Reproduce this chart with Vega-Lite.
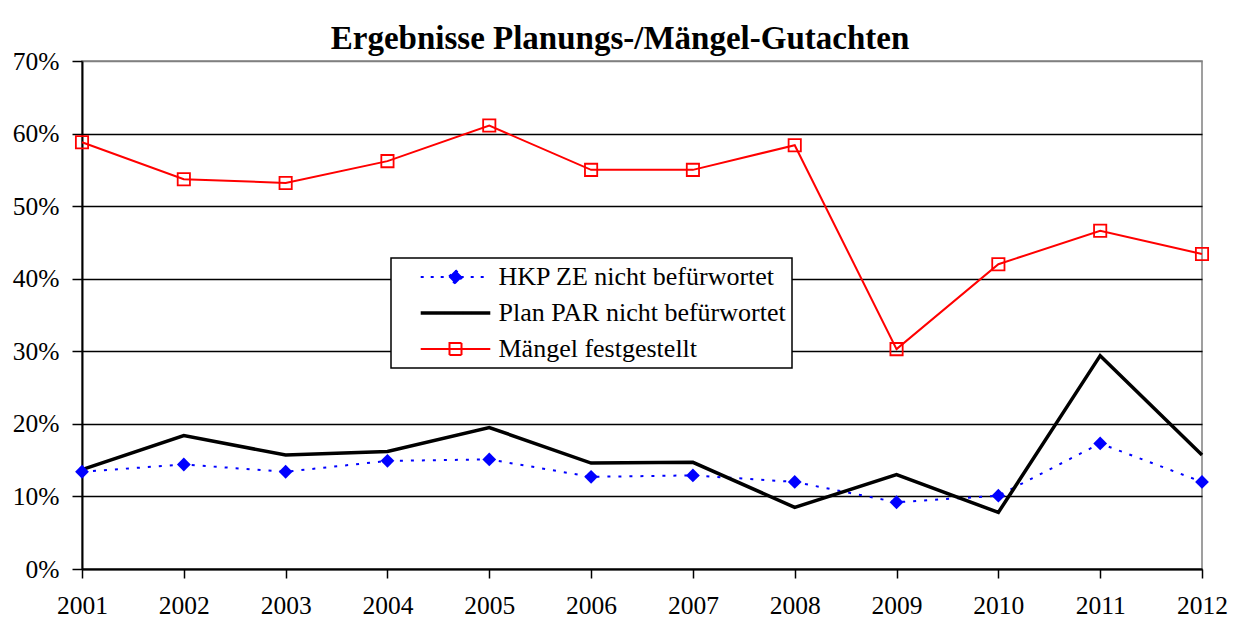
{
  "$schema": "https://vega.github.io/schema/vega-lite/v6.json",
  "width": 1120,
  "height": 508,
  "autosize": {"type": "none"},
  "padding": {"left": 82, "top": 61, "right": 36, "bottom": 61},
  "background": "white",
  "title": {
    "text": "Ergebnisse Planungs-/Mängel-Gutachten",
    "font": "Liberation Serif",
    "fontSize": 33,
    "fontWeight": "bold",
    "color": "black",
    "anchor": "middle",
    "frame": "group",
    "dx": -22,
    "dy": 34,
    "baseline": "alphabetic",
    "offset": 1
  },
  "data": {
    "values": [
      {"Jahr": 2001, "Reihe": "HKP ZE nicht befürwortet", "Wert": 0.134},
      {"Jahr": 2002, "Reihe": "HKP ZE nicht befürwortet", "Wert": 0.144},
      {"Jahr": 2003, "Reihe": "HKP ZE nicht befürwortet", "Wert": 0.134},
      {"Jahr": 2004, "Reihe": "HKP ZE nicht befürwortet", "Wert": 0.149},
      {"Jahr": 2005, "Reihe": "HKP ZE nicht befürwortet", "Wert": 0.151},
      {"Jahr": 2006, "Reihe": "HKP ZE nicht befürwortet", "Wert": 0.127},
      {"Jahr": 2007, "Reihe": "HKP ZE nicht befürwortet", "Wert": 0.129},
      {"Jahr": 2008, "Reihe": "HKP ZE nicht befürwortet", "Wert": 0.120},
      {"Jahr": 2009, "Reihe": "HKP ZE nicht befürwortet", "Wert": 0.092},
      {"Jahr": 2010, "Reihe": "HKP ZE nicht befürwortet", "Wert": 0.101},
      {"Jahr": 2011, "Reihe": "HKP ZE nicht befürwortet", "Wert": 0.173},
      {"Jahr": 2012, "Reihe": "HKP ZE nicht befürwortet", "Wert": 0.120},
      {"Jahr": 2001, "Reihe": "Plan PAR nicht befürwortet", "Wert": 0.137},
      {"Jahr": 2002, "Reihe": "Plan PAR nicht befürwortet", "Wert": 0.184},
      {"Jahr": 2003, "Reihe": "Plan PAR nicht befürwortet", "Wert": 0.157},
      {"Jahr": 2004, "Reihe": "Plan PAR nicht befürwortet", "Wert": 0.162},
      {"Jahr": 2005, "Reihe": "Plan PAR nicht befürwortet", "Wert": 0.195},
      {"Jahr": 2006, "Reihe": "Plan PAR nicht befürwortet", "Wert": 0.146},
      {"Jahr": 2007, "Reihe": "Plan PAR nicht befürwortet", "Wert": 0.147},
      {"Jahr": 2008, "Reihe": "Plan PAR nicht befürwortet", "Wert": 0.085},
      {"Jahr": 2009, "Reihe": "Plan PAR nicht befürwortet", "Wert": 0.130},
      {"Jahr": 2010, "Reihe": "Plan PAR nicht befürwortet", "Wert": 0.078},
      {"Jahr": 2011, "Reihe": "Plan PAR nicht befürwortet", "Wert": 0.294},
      {"Jahr": 2012, "Reihe": "Plan PAR nicht befürwortet", "Wert": 0.157},
      {"Jahr": 2001, "Reihe": "Mängel festgestellt", "Wert": 0.588},
      {"Jahr": 2002, "Reihe": "Mängel festgestellt", "Wert": 0.537},
      {"Jahr": 2003, "Reihe": "Mängel festgestellt", "Wert": 0.532},
      {"Jahr": 2004, "Reihe": "Mängel festgestellt", "Wert": 0.562},
      {"Jahr": 2005, "Reihe": "Mängel festgestellt", "Wert": 0.611},
      {"Jahr": 2006, "Reihe": "Mängel festgestellt", "Wert": 0.550},
      {"Jahr": 2007, "Reihe": "Mängel festgestellt", "Wert": 0.550},
      {"Jahr": 2008, "Reihe": "Mängel festgestellt", "Wert": 0.584},
      {"Jahr": 2009, "Reihe": "Mängel festgestellt", "Wert": 0.303},
      {"Jahr": 2010, "Reihe": "Mängel festgestellt", "Wert": 0.420},
      {"Jahr": 2011, "Reihe": "Mängel festgestellt", "Wert": 0.466},
      {"Jahr": 2012, "Reihe": "Mängel festgestellt", "Wert": 0.434}
    ]
  },
  "encoding": {
    "x": {
      "field": "Jahr",
      "type": "ordinal",
      "scale": {"type": "point", "padding": 0},
      "axis": {
        "title": null,
        "labelAngle": 0,
        "labelFont": "Liberation Serif",
        "labelFontSize": 25.5,
        "labelColor": "black",
        "labelPadding": 15,
        "tickSize": 9,
        "tickColor": "black",
        "tickWidth": 1.5,
        "domainColor": "black",
        "domainWidth": 2,
        "grid": false
      }
    },
    "y": {
      "field": "Wert",
      "type": "quantitative",
      "scale": {"domain": [0, 0.7], "nice": false},
      "axis": {
        "title": null,
        "values": [0, 0.1, 0.2, 0.3, 0.4, 0.5, 0.6, 0.7],
        "format": ".0%",
        "labelFont": "Liberation Serif",
        "labelFontSize": 25.5,
        "labelColor": "black",
        "labelPadding": 13,
        "tickSize": 10,
        "tickColor": "black",
        "tickWidth": 1.5,
        "domainColor": "black",
        "domainWidth": 2,
        "grid": true,
        "gridColor": {"condition": {"test": "datum.value >= 0.69", "value": "#808080"}, "value": "black"},
        "gridWidth": 1.4,
        "gridOpacity": 1
      }
    },
    "color": {
      "field": "Reihe",
      "type": "nominal",
      "scale": {
        "domain": ["HKP ZE nicht befürwortet", "Plan PAR nicht befürwortet", "Mängel festgestellt"],
        "range": ["#0000FF", "#000000", "#FF0000"]
      },
      "legend": {
        "title": null,
        "orient": "none",
        "legendX": 309,
        "legendY": 197,
        "direction": "vertical",
        "padding": 6,
        "strokeColor": "black",
        "fillColor": "white",
        "labelFont": "Liberation Serif",
        "labelFontSize": 26,
        "labelColor": "black",
        "labelLimit": 600,
        "labelOffset": 30,
        "symbolOffset": 45.5,
        "symbolSize": 144,
        "symbolStrokeWidth": 2,
        "rowPadding": 10,
        "encode": {
          "legend": {"update": {"strokeWidth": {"value": 1.5}}},
          "symbols": {
            "update": {
              "shape": {"signal": "datum.value === 'HKP ZE nicht befürwortet' ? 'M-5.8,0H5.8M0,-1.15L1.15,0L0,1.15L-1.15,0Z' : (datum.value === 'Mängel festgestellt' ? 'M-5.8,0H5.8M-1,-1H1V1H-1Z' : 'M-5.8,0H5.8')"},
              "fill": {"signal": "datum.value === 'HKP ZE nicht befürwortet' ? '#0000FF' : '#FFFFFF'"},
              "fillOpacity": {"signal": "datum.value === 'HKP ZE nicht befürwortet' ? 1 : 0"},
              "strokeWidth": {"signal": "datum.value === 'Plan PAR nicht befürwortet' ? 3.5 : 2"},
              "strokeDash": {"signal": "datum.value === 'HKP ZE nicht befürwortet' ? [3, 7] : [1, 0]"},
              "size": {"value": 144},
              "opacity": {"value": 1}
            }
          }
        }
      }
    }
  },
  "layer": [
    {
      "transform": [{"filter": "datum.Reihe === 'HKP ZE nicht befürwortet'"}],
      "mark": {"type": "line", "strokeWidth": 2, "strokeDash": [3, 8]}
    },
    {
      "transform": [{"filter": "datum.Reihe === 'Plan PAR nicht befürwortet'"}],
      "mark": {"type": "line", "strokeWidth": 3.5}
    },
    {
      "transform": [{"filter": "datum.Reihe === 'Mängel festgestellt'"}],
      "mark": {"type": "line", "strokeWidth": 2}
    },
    {
      "transform": [{"filter": "datum.Reihe === 'HKP ZE nicht befürwortet'"}],
      "mark": {"type": "point", "shape": "diamond", "filled": true, "size": 190, "opacity": 1}
    },
    {
      "transform": [{"filter": "datum.Reihe === 'Mängel festgestellt'"}],
      "mark": {"type": "point", "shape": "square", "filled": false, "size": 150, "strokeWidth": 1.8, "opacity": 1}
    }
  ],
  "config": {
    "view": {"stroke": "#808080", "strokeWidth": 1.5},
    "font": "Liberation Serif"
  }
}
